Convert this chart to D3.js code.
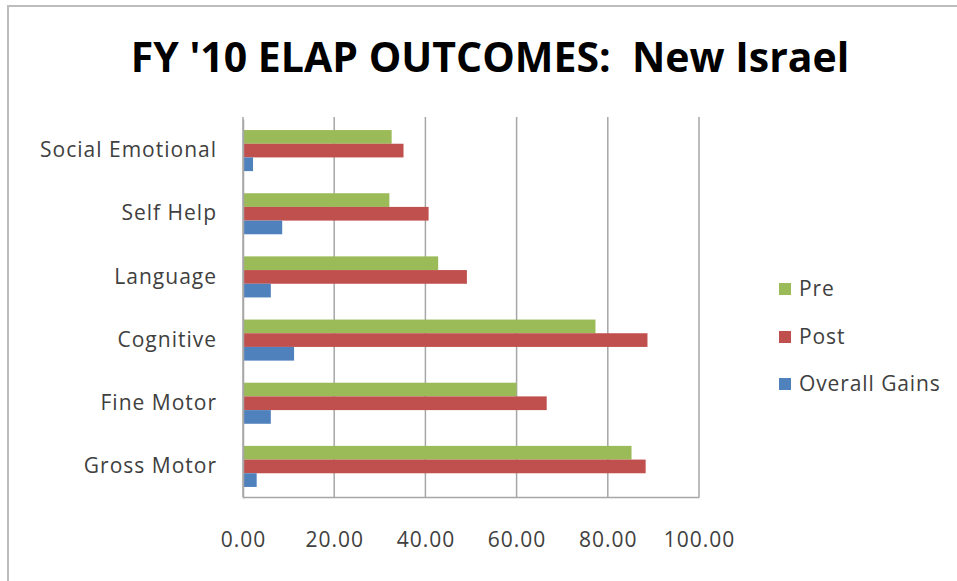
<!DOCTYPE html>
<html><head><meta charset="utf-8">
<script src="https://cdn.jsdelivr.net/npm/d3@7"></script>
<style>body{margin:0;background:#fff}svg{display:block}</style>
</head><body>
<svg id="chart" width="957" height="581"></svg>
<script>
const categories = ["Social Emotional","Self Help","Language","Cognitive","Fine Motor","Gross Motor"];
const preValues  = [32.6, 32.1, 42.8, 77.3, 60.0, 85.2];
const postValues = [35.2, 40.7, 49.1, 88.7, 66.6, 88.3];
const gainValues = [2.2, 8.6, 6.1, 11.2, 6.1, 3.0];
const seriesNames = ["Pre","Post","Overall Gains"];
const seriesColors = ["#9bbb59","#c0504d","#4f81bd"];
const tickValues = [0,20,40,60,80,100];
const title = "FY '10 ELAP OUTCOMES:  New Israel";

(function(){
const seriesData = [preValues, postValues, gainValues];
const svg = d3.select("#chart");
const font = "'Open Sans', sans-serif";

svg.append("rect").attr("x",8).attr("y",6).attr("width",960).attr("height",600)
  .attr("fill","#fff").attr("stroke","#bdbdbd").attr("stroke-width",2);

svg.append("text").attr("x",490).attr("y",72).attr("text-anchor","middle")
  .attr("font-family","'Open Sans', sans-serif").attr("font-weight","bold")
  .attr("font-size",41).attr("fill","#000").style("white-space","pre").text(title);

const pLeft=243, pRight=699, pTop=117, pBottom=497;
const x = d3.scaleLinear().domain([0,100]).range([pLeft,pRight]);
const y = d3.scaleBand().domain(categories).range([119,498]).paddingInner(0.35).paddingOuter(0.175);
const ySub = d3.scaleBand().domain(seriesNames).range([0,y.bandwidth()]);

svg.append("g").selectAll("line").data(tickValues).join("line")
  .attr("x1",d=>x(d)).attr("x2",d=>x(d)).attr("y1",pTop).attr("y2",pBottom)
  .attr("stroke","#a6a6a6").attr("stroke-width",1.5);

const g = svg.append("g");
categories.forEach((c,i)=>{
  seriesNames.forEach((s,j)=>{
    g.append("rect").attr("x",x(0)).attr("y",y(c)+ySub(s))
     .attr("width",x(seriesData[j][i])-x(0)).attr("height",ySub.bandwidth())
     .attr("fill",seriesColors[j]);
  });
});

const xAxis = d3.axisBottom(x).tickValues(tickValues).tickFormat(d3.format(".2f")).tickSize(0).tickPadding(35);
const ax = svg.append("g").attr("transform",`translate(0,${pBottom})`).call(xAxis);
ax.select(".domain").attr("stroke","#a6a6a6").attr("stroke-width",1.5);
ax.selectAll("text").attr("font-family",font).attr("font-size",21).attr("letter-spacing","1px").attr("fill","#404040");

const yAxis = d3.axisLeft(y).tickSize(0).tickPadding(26);
const ay = svg.append("g").attr("transform",`translate(${pLeft},0)`).call(yAxis);
ay.select(".domain").attr("stroke","#a6a6a6").attr("stroke-width",1.5);
ay.selectAll("text").attr("font-family",font).attr("font-size",21).attr("letter-spacing","1px").attr("fill","#404040");

const lg = svg.append("g");
const legY = [289,337,384];
seriesNames.forEach((s,j)=>{
  lg.append("rect").attr("x",779).attr("y",legY[j]-6).attr("width",12).attr("height",12).attr("fill",seriesColors[j]);
  lg.append("text").attr("x",799).attr("y",legY[j]).attr("dy","0.35em").attr("letter-spacing","0.9px")
    .attr("font-family",font).attr("font-size",21).attr("fill","#404040").text(s);
});
})();
</script>
</body></html>
